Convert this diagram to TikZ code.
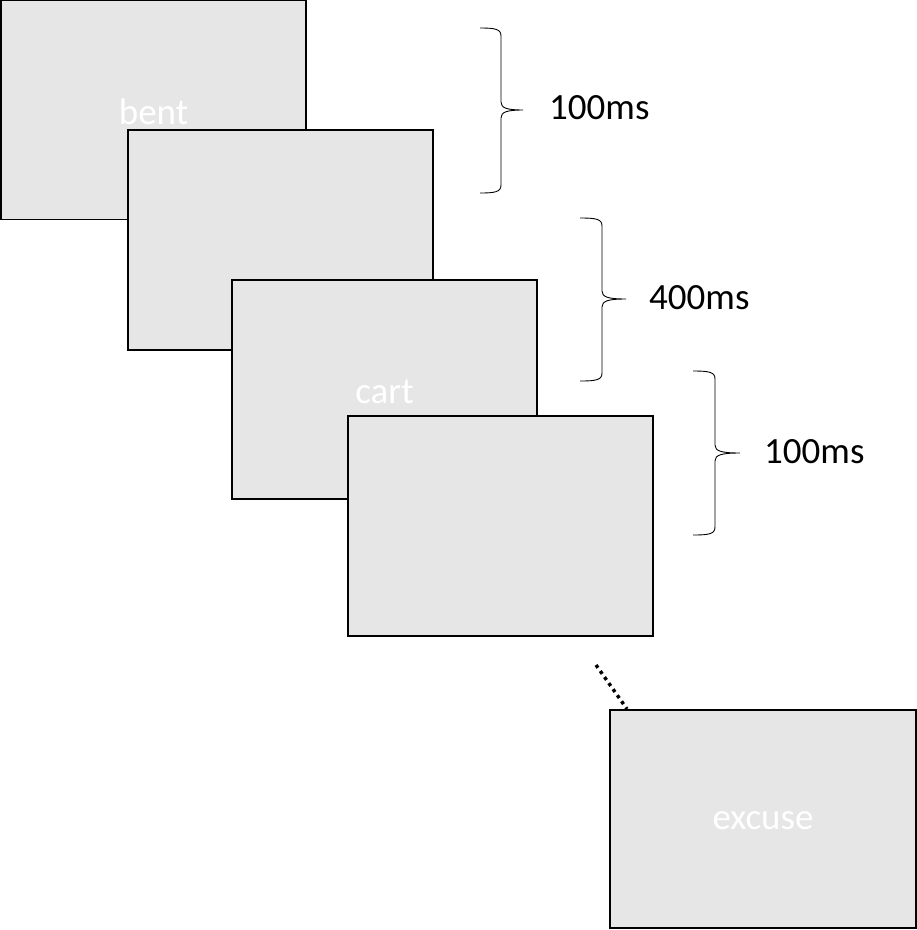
\documentclass[tikz,border=0pt]{standalone}
\usepackage{fontspec}
\setmainfont{Carlito}
\definecolor{boxgray}{HTML}{E6E6E6}
\newcommand{\officebrace}[6]{% x0, xm, tip, ytop, ymid, ybot
  \draw[bracestyle] (#1,#4) .. controls ({#2-6},#4) and (#2,{#4+1}) .. (#2,{#4+8})
    -- (#2,{#5-8}) .. controls (#2,{#5-2}) and ({#2+6},#5) .. (#3,#5)
    .. controls ({#2+6},#5) and (#2,{#5+2}) .. (#2,{#5+8})
    -- (#2,{#6-8}) .. controls (#2,{#6-1}) and ({#2-6},#6) .. (#1,#6);}
\newcommand{\lowword}[1]{\raisebox{-2pt}[\height][\depth]{#1}}
\begin{document}
\begin{tikzpicture}[x=1pt,y=-1pt,
  screen/.style={draw=black, line width=1.5pt, fill=boxgray, rectangle,
    minimum width=305pt, minimum height=219pt, inner sep=0pt, outer sep=0pt,
    text=white, font=\fontsize{37}{44}\selectfont},
  bracestyle/.style={draw=black, line width=0.9pt},
  durlabel/.style={anchor=west, inner sep=0pt, text=black, font=\fontsize{37}{44}\selectfont}]
\useasboundingbox (0,0) rectangle (917,930);
\node[screen] (s1) at (153.5,110) {\lowword{bent}};
\node[screen, minimum height=220pt] (s2) at (280.5,240) {};
\node[screen] (s3) at (384.5,389.5) {\lowword{cart}};
\node[screen, minimum height=220pt] (s4) at (500.5,526) {};
\node[screen, minimum width=306pt, minimum height=218pt] (s5) at (763,819) {\lowword{excuse}};
\coordinate (d1) at (596,665);
\coordinate (d2) at (627,709);
\draw[line width=3.4pt, dash pattern=on 3.4pt off 4pt] (d1) -- (d2);
\officebrace{480}{501}{523}{28}{110}{193}
\officebrace{580}{602}{626}{218}{299}{381}
\officebrace{693}{715}{740}{371}{453}{535}
\node[durlabel] (t1) at (549,108) {100ms};
\node[durlabel] (t2) at (649,298) {400ms};
\node[durlabel] (t3) at (764,452) {100ms};
\end{tikzpicture}
\end{document}
